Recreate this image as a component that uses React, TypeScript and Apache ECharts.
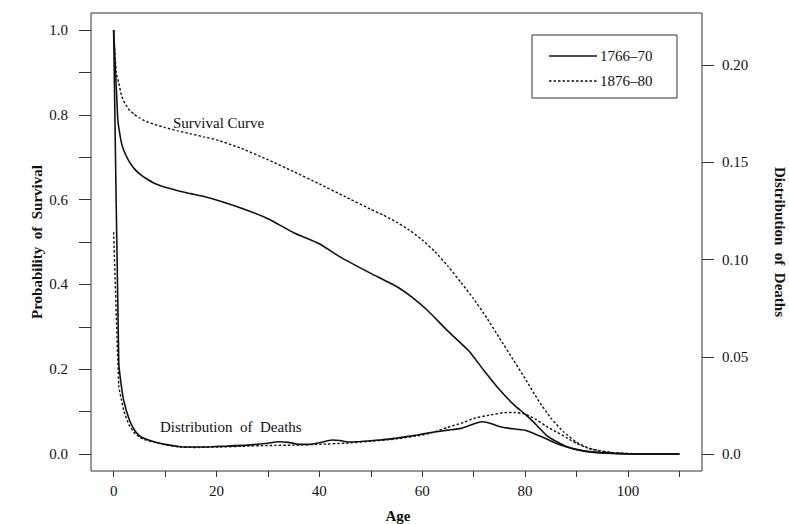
import React, { useEffect, useRef } from "react";
import * as echarts from "echarts";

// ---- Data ----
const survivalAges1766 = [0, 0.8, 1, 1.5, 2, 3, 4, 5, 6, 8, 10, 12.5, 15, 17, 20, 25, 30, 35, 40, 44, 50, 55, 58, 61, 65, 69, 72, 75, 78, 80, 82, 84, 86, 88, 90, 93, 96, 100, 105, 110];
const survival1766 = [1.0, 0.79, 0.77, 0.735, 0.715, 0.69, 0.673, 0.661, 0.652, 0.638, 0.629, 0.621, 0.614, 0.609, 0.599, 0.579, 0.555, 0.522, 0.496, 0.465, 0.426, 0.395, 0.37, 0.339, 0.29, 0.244, 0.197, 0.152, 0.114, 0.094, 0.071, 0.046, 0.03, 0.018, 0.011, 0.005, 0.002, 0.0005, 0, 0];

const survivalAges1876 = [0, 0.5, 1, 1.5, 2, 3, 4, 5, 6, 8, 10, 12.5, 15, 17.5, 20, 25, 30, 35, 40, 45, 50, 52.5, 55, 57.5, 60, 62.5, 65, 67.5, 70, 72.5, 75, 77.5, 80, 82.5, 85, 87.5, 90, 92.5, 95, 97.5, 100, 105, 110];
const survival1876 = [1.0, 0.9, 0.875, 0.847, 0.831, 0.812, 0.801, 0.793, 0.786, 0.777, 0.77, 0.762, 0.755, 0.748, 0.741, 0.72, 0.694, 0.666, 0.637, 0.607, 0.577, 0.563, 0.547, 0.528, 0.505, 0.477, 0.443, 0.405, 0.366, 0.322, 0.274, 0.226, 0.178, 0.128, 0.085, 0.052, 0.028, 0.013, 0.006, 0.0025, 0.001, 0, 0];

const deathAges1766 = [0, 1, 1.5, 2, 3, 4, 5, 6, 8, 10, 13, 16, 19, 22, 26, 30, 32, 34, 36, 38, 40, 42.5, 44, 45.5, 48, 52, 55, 59, 62, 65, 67.5, 70, 71.5, 73, 75, 77, 80, 82, 84, 86, 88, 90.5, 93, 97, 100, 105, 110];
const deaths1766 = [0.218, 0.047, 0.035, 0.027, 0.018, 0.0125, 0.0095, 0.008, 0.0062, 0.005, 0.0038, 0.0036, 0.0038, 0.0041, 0.0046, 0.0056, 0.0063, 0.006, 0.005, 0.005, 0.0058, 0.0072, 0.007, 0.0062, 0.0065, 0.0073, 0.0082, 0.0098, 0.0112, 0.0123, 0.0132, 0.0155, 0.0166, 0.016, 0.0142, 0.0132, 0.0122, 0.0102, 0.008, 0.0056, 0.0038, 0.002, 0.001, 0.0004, 0.0001, 0, 0];

const deathAges1876 = [0, 1, 1.5, 2, 3, 4, 5, 6, 8, 10, 13, 16, 20, 25, 30, 35, 40, 45, 50, 55, 60, 62, 65, 68, 70, 73, 76, 78, 80, 82, 84, 86, 88, 90, 92, 94, 97, 100, 105, 110];
const deaths1876 = [0.114, 0.035, 0.028, 0.022, 0.015, 0.011, 0.0088, 0.0075, 0.006, 0.0048, 0.0036, 0.0034, 0.0036, 0.004, 0.0044, 0.0046, 0.005, 0.0056, 0.0066, 0.0078, 0.0098, 0.011, 0.0138, 0.0162, 0.0183, 0.02, 0.0213, 0.0214, 0.0205, 0.018, 0.0145, 0.0115, 0.0085, 0.0055, 0.0033, 0.002, 0.0008, 0.0003, 0, 0];

const seriesNames = ["1766\u201370", "1876\u201380"];

const xTicks = [0, 10, 20, 30, 40, 50, 60, 70, 80, 90, 100, 110];
const xTickLabels = [0, 20, 40, 60, 80, 100];
const leftTicks = [0, 0.1, 0.2, 0.3, 0.4, 0.5, 0.6, 0.7, 0.8, 0.9, 1.0];
const leftTickLabels = [0, 0.2, 0.4, 0.6, 0.8, 1.0];
const rightTicks = [0, 0.05, 0.1, 0.15, 0.2];
const rightTickLabels = ["0.0", "0.05", "0.10", "0.15", "0.20"];

const FONT = '"Liberation Serif", "Times New Roman", serif';
const INK = "#111";
const DASH = [2.5, 2];

function pairs(xs: number[], ys: number[]) {
  return xs.map((x, i) => [x, ys[i]]);
}

export default function App() {
  const ref = useRef<HTMLDivElement>(null);

  useEffect(() => {
    if (!ref.current) return;
    const chart = echarts.init(ref.current, undefined, { renderer: "svg" });
    const solid = { color: INK, width: 1.6, type: "solid" as const };
    const dashed = { color: INK, width: 1.4, type: DASH as any };

    const textStyle = (text: string, font: string, align: string) => ({
      text,
      font,
      fill: INK,
      align,
      verticalAlign: "middle",
      textAlign: align,
      textVerticalAlign: "middle",
    });

    chart.setOption({
      animation: false,
      backgroundColor: "#fff",
      grid: {
        left: 91,
        right: 87,
        top: 13,
        bottom: 53,
        show: true,
        borderColor: "#333",
        borderWidth: 1,
        backgroundColor: "transparent",
      },
      xAxis: {
        type: "value",
        min: -4.4,
        max: 114.4,
        axisLine: { show: false, onZero: false },
        splitLine: { show: false },
        axisTick: {
          show: true,
          length: 6,
          customValues: xTicks,
          lineStyle: { color: "#333" },
        },
        axisLabel: {
          customValues: xTickLabels,
          fontFamily: FONT,
          fontSize: 15,
          color: INK,
          margin: 12,
        },
      },
      yAxis: [
        {
          type: "value",
          position: "left",
          min: -0.04,
          max: 1.04,
          axisLine: { show: false, onZero: false },
          splitLine: { show: false },
          axisTick: {
            show: true,
            length: 12,
            customValues: leftTicks,
            lineStyle: { color: "#333" },
          },
          axisLabel: {
            customValues: leftTickLabels,
            formatter: (v: number) => v.toFixed(1),
            fontFamily: FONT,
            fontSize: 15,
            color: INK,
            margin: 23,
          },
        },
        {
          type: "value",
          position: "right",
          min: -0.0087,
          max: 0.2267,
          axisLine: { show: false, onZero: false },
          splitLine: { show: false },
          axisTick: {
            show: true,
            length: 12,
            customValues: rightTicks,
            lineStyle: { color: "#333" },
          },
          axisLabel: {
            customValues: rightTicks,
            formatter: (v: number) => {
              const i = rightTicks.findIndex((t) => Math.abs(t - v) < 1e-9);
              return i >= 0 ? rightTickLabels[i] : "";
            },
            fontFamily: FONT,
            fontSize: 15,
            color: INK,
            margin: 20,
          },
        },
      ],
      series: [
        {
          name: seriesNames[0],
          type: "line",
          yAxisIndex: 0,
          data: pairs(survivalAges1766, survival1766),
          symbol: "none",
          smooth: 0.15,
          lineStyle: solid,
          itemStyle: { color: INK },
        },
        {
          name: seriesNames[1],
          type: "line",
          yAxisIndex: 0,
          data: pairs(survivalAges1876, survival1876),
          symbol: "none",
          smooth: 0.15,
          lineStyle: dashed,
          itemStyle: { color: INK },
        },
        {
          name: seriesNames[0],
          type: "line",
          yAxisIndex: 1,
          data: pairs(deathAges1766, deaths1766),
          symbol: "none",
          smooth: 0.15,
          lineStyle: solid,
          itemStyle: { color: INK },
        },
        {
          name: seriesNames[1],
          type: "line",
          yAxisIndex: 1,
          data: pairs(deathAges1876, deaths1876),
          symbol: "none",
          smooth: 0.15,
          lineStyle: dashed,
          itemStyle: { color: INK },
        },
      ],
      graphic: [
        // legend box
        {
          type: "rect",
          shape: { x: 532, y: 35, width: 145, height: 63 },
          style: { fill: "#fff", stroke: "#333", lineWidth: 1 },
        },
        {
          type: "line",
          shape: { x1: 549, y1: 56, x2: 597, y2: 56 },
          style: { stroke: INK, lineWidth: 1.6 },
        },
        {
          type: "line",
          shape: { x1: 549, y1: 81, x2: 597, y2: 81 },
          style: { stroke: INK, lineWidth: 1.4, lineDash: DASH },
        },
        {
          type: "text",
          x: 600,
          y: 56,
          style: textStyle(seriesNames[0], `15px ${FONT}`, "left"),
        },
        {
          type: "text",
          x: 600,
          y: 81,
          style: textStyle(seriesNames[1], `15px ${FONT}`, "left"),
        },
        // annotations
        {
          type: "text",
          x: 173,
          y: 123,
          style: textStyle("Survival Curve", `15px ${FONT}`, "left"),
        },
        {
          type: "text",
          x: 160,
          y: 427,
          style: textStyle("Distribution  of  Deaths", `15px ${FONT}`, "left"),
        },
        // axis titles
        {
          type: "text",
          x: 398,
          y: 516,
          style: textStyle("Age", `bold 15px ${FONT}`, "center"),
        },
        {
          type: "text",
          x: 37,
          y: 242,
          rotation: Math.PI / 2,
          style: textStyle("Probability  of  Survival", `bold 15px ${FONT}`, "center"),
        },
        {
          type: "text",
          x: 780,
          y: 242,
          rotation: -Math.PI / 2,
          style: textStyle("Distribution  of  Deaths", `bold 15px ${FONT}`, "center"),
        },
      ],
    });

    return () => chart.dispose();
  }, []);

  return (
    <div
      ref={ref}
      style={{ position: "fixed", left: 0, top: 0, width: 789, height: 524 }}
    />
  );
}
